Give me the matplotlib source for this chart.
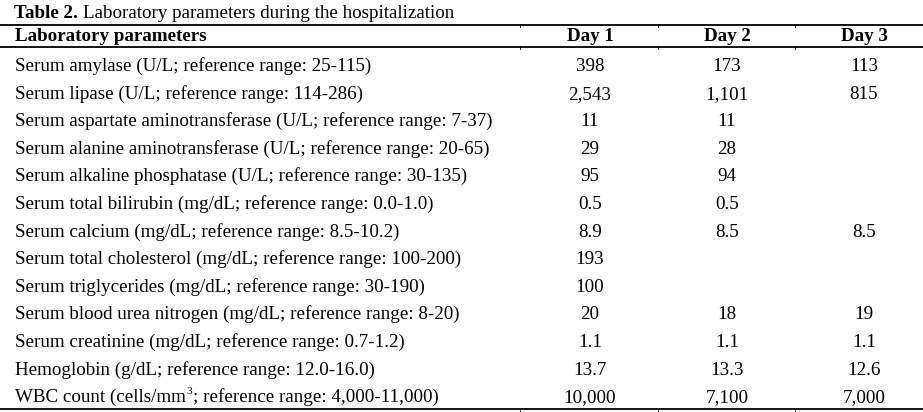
import matplotlib.pyplot as plt

plt.rcParams['font.family'] = ['Liberation Serif', 'DejaVu Serif']

## table content
title_bold = 'Table 2.'
title_rest = 'Laboratory parameters during the hospitalization'
col_headers = ['Laboratory parameters', 'Day 1', 'Day 2', 'Day 3']
parameters = [
    'Serum amylase (U/L; reference range: 25-115)',
    'Serum lipase (U/L; reference range: 114-286)',
    'Serum aspartate aminotransferase (U/L; reference range: 7-37)',
    'Serum alanine aminotransferase (U/L; reference range: 20-65)',
    'Serum alkaline phosphatase (U/L; reference range: 30-135)',
    'Serum total bilirubin (mg/dL; reference range: 0.0-1.0)',
    'Serum calcium (mg/dL; reference range: 8.5-10.2)',
    'Serum total cholesterol (mg/dL; reference range: 100-200)',
    'Serum triglycerides (mg/dL; reference range: 30-190)',
    'Serum blood urea nitrogen (mg/dL; reference range: 8-20)',
    'Serum creatinine (mg/dL; reference range: 0.7-1.2)',
    'Hemoglobin (g/dL; reference range: 12.0-16.0)',
    ('WBC count (cells/mm', '3', '; reference range: 4,000-11,000)'),
]
day1 = ['398', '2,543', '11', '29', '95', '0.5', '8.9', '193', '100', '20', '1.1', '13.7', '10,000']
day2 = ['173', '1,101', '11', '28', '94', '0.5', '8.5', '', '', '18', '1.1', '13.3', '7,100']
day3 = ['113', '815', '', '', '', '', '8.5', '', '', '19', '1.1', '12.6', '7,000']

W, H = 923, 412
fig = plt.figure(figsize=(W / 100, H / 100), dpi=100)
ax = fig.add_axes([0, 0, 1, 1])
ax.set_xlim(0, W)
ax.set_ylim(H, 0)
ax.axis('off')
renderer = fig.canvas.get_renderer()

fs = 13.7
day_x = [590, 727, 864]
col_edges = [520, 658, 795]


def text_after(prev, s, **kw):
    # place a text right after another one on the same baseline
    bb = prev.get_window_extent(renderer)
    x = ax.transData.inverted().transform((bb.x1, bb.y0))[0]
    return ax.text(x, prev.get_position()[1], s, **kw)


# title
t = ax.text(14, 18, title_bold + ' ', fontsize=fs, fontweight='bold', va='baseline', ha='left')
text_after(t, title_rest, fontsize=fs, va='baseline', ha='left')

# rules
for y in [25, 47, 409]:
    ax.plot([0, W], [y, y], color='black', lw=1.3, solid_capstyle='butt')
    for x in col_edges:
        ax.plot([x, x], [y - 1.5, y + 1.5], color='black', lw=0.6)

# header
ax.text(15, 41, col_headers[0], fontsize=fs, fontweight='bold', va='baseline', ha='left')
for x, h in zip(day_x, col_headers[1:]):
    ax.text(x, 41, h, fontsize=fs, fontweight='bold', va='baseline', ha='center')

# rows
y0, dy = 71, 27.6
for i, p in enumerate(parameters):
    y = y0 + i * dy
    if isinstance(p, tuple):
        a = ax.text(15, y, p[0], fontsize=fs, va='baseline', ha='left')
        bb = a.get_window_extent(renderer)
        xs = ax.transData.inverted().transform((bb.x1, bb.y0))[0]
        sup = ax.text(xs + 1, y - 8, p[1], fontsize=fs * 0.6, va='baseline', ha='left')
        bb2 = sup.get_window_extent(renderer)
        xr = ax.transData.inverted().transform((bb2.x1, bb2.y0))[0]
        ax.text(xr, y, p[2], fontsize=fs, va='baseline', ha='left')
    else:
        ax.text(15, y, p, fontsize=fs, va='baseline', ha='left')
    for x, col in zip(day_x, [day1, day2, day3]):
        if col[i]:
            ax.text(x, y, col[i], fontsize=fs, va='baseline', ha='center')

fig.savefig('out.png', dpi=100)
